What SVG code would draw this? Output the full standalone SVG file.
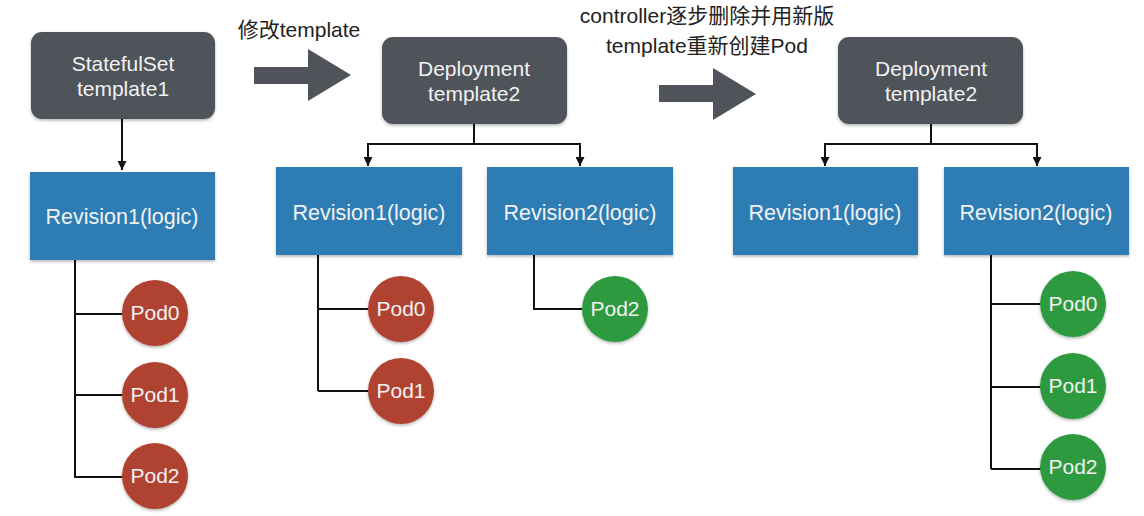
<svg xmlns="http://www.w3.org/2000/svg" width="1144" height="516" viewBox="0 0 1144 516">
<style>
.ctl{fill:#50535a}
.rev{fill:#2f7bb4}
.red{fill:#b04232}
.green{fill:#2e9a40}
.t{font-family:"Liberation Sans","Noto Sans CJK SC",sans-serif;fill:#f2f2f2;text-anchor:middle;font-size:21px}
.rt{font-size:21.5px}
.lbl{font-family:"Liberation Sans","Noto Sans CJK SC",sans-serif;fill:#222;text-anchor:middle;font-size:21px}
.ln{stroke:#111;stroke-width:2;fill:none}
.big{fill:#50535a}
</style>
<defs>
<marker id="ah" viewBox="0 0 10 10" refX="10" refY="5" markerWidth="9" markerHeight="9" markerUnits="userSpaceOnUse" orient="auto">
<path d="M0,0 L10,5 L0,10 Z" fill="#111"/>
</marker>
<filter id="sh" x="-10%" y="-10%" width="120%" height="130%">
<feDropShadow dx="0" dy="1.5" stdDeviation="1.5" flood-color="#000" flood-opacity="0.3"/>
</filter>
</defs>

<g id="labels">
<text class="lbl" x="299" y="37">修改template</text>
<text class="lbl" x="707" y="23">controller逐步删除并用新版</text>
<text class="lbl" x="707" y="53">template重新创建Pod</text>
</g>

<g id="bigarrows">
<path class="big" d="M254,67 L308,67 L308,49 L351,75 L308,101 L308,84 L254,84 Z"/>
<path class="big" d="M659,85 L713,85 L713,68 L756,94 L713,120 L713,102 L659,102 Z"/>
</g>

<g id="connectors">
<path class="ln" d="M122,119 V170" marker-end="url(#ah)"/>
<path class="ln" d="M75,260 V478 M75,314 H122 M75,395 H122 M75,477 H122"/>
<path class="ln" d="M474,124 V144 M368,144 H580"/>
<path class="ln" d="M368,143 V166" marker-end="url(#ah)"/>
<path class="ln" d="M580,143 V166" marker-end="url(#ah)"/>
<path class="ln" d="M318,255 V391 M318,309 H368 M318,391 H368"/>
<path class="ln" d="M534,255 V309 H582"/>
<path class="ln" d="M931,124 V144 M825,144 H1037"/>
<path class="ln" d="M825,143 V166" marker-end="url(#ah)"/>
<path class="ln" d="M1037,143 V166" marker-end="url(#ah)"/>
<path class="ln" d="M991,255 V469 M991,304 H1041 M991,387 H1041 M991,469 H1041"/>
</g>

<g id="statefulset">
<rect class="ctl" x="31" y="32" width="184" height="87" rx="11" filter="url(#sh)"/>
<text class="t" x="123" y="71">StatefulSet</text>
<text class="t" x="123" y="96">template1</text>
</g>
<g id="p1rev1">
<rect class="rev" x="30" y="172" width="185" height="88" filter="url(#sh)"/>
<text class="t rt" x="122" y="224">Revision1(logic)</text>
</g>
<g id="p1pod0"><circle class="red" cx="155" cy="313" r="33" filter="url(#sh)"/><text class="t" x="155" y="320">Pod0</text></g>
<g id="p1pod1"><circle class="red" cx="155" cy="395" r="33" filter="url(#sh)"/><text class="t" x="155" y="402">Pod1</text></g>
<g id="p1pod2"><circle class="red" cx="155" cy="476" r="33" filter="url(#sh)"/><text class="t" x="155" y="483">Pod2</text></g>

<g id="deploy1">
<rect class="ctl" x="382" y="37" width="185" height="87" rx="11" filter="url(#sh)"/>
<text class="t" x="474" y="76">Deployment</text>
<text class="t" x="474" y="101">template2</text>
</g>
<g id="p2rev1">
<rect class="rev" x="276" y="167" width="186" height="88" filter="url(#sh)"/>
<text class="t rt" x="369" y="220">Revision1(logic)</text>
</g>
<g id="p2rev2">
<rect class="rev" x="487" y="167" width="186" height="88" filter="url(#sh)"/>
<text class="t rt" x="580" y="220">Revision2(logic)</text>
</g>
<g id="p2pod0"><circle class="red" cx="401" cy="309" r="33" filter="url(#sh)"/><text class="t" x="401" y="316">Pod0</text></g>
<g id="p2pod1"><circle class="red" cx="401" cy="391" r="33" filter="url(#sh)"/><text class="t" x="401" y="398">Pod1</text></g>
<g id="p2pod2"><circle class="green" cx="615" cy="309" r="33" filter="url(#sh)"/><text class="t" x="615" y="316">Pod2</text></g>

<g id="deploy2">
<rect class="ctl" x="838" y="37" width="185" height="87" rx="11" filter="url(#sh)"/>
<text class="t" x="931" y="76">Deployment</text>
<text class="t" x="931" y="101">template2</text>
</g>
<g id="p3rev1">
<rect class="rev" x="733" y="167" width="185" height="88" filter="url(#sh)"/>
<text class="t rt" x="825" y="220">Revision1(logic)</text>
</g>
<g id="p3rev2">
<rect class="rev" x="944" y="167" width="185" height="88" filter="url(#sh)"/>
<text class="t rt" x="1036" y="220">Revision2(logic)</text>
</g>
<g id="p3pod0"><circle class="green" cx="1073" cy="304" r="33" filter="url(#sh)"/><text class="t" x="1073" y="311">Pod0</text></g>
<g id="p3pod1"><circle class="green" cx="1073" cy="386" r="33" filter="url(#sh)"/><text class="t" x="1073" y="393">Pod1</text></g>
<g id="p3pod2"><circle class="green" cx="1073" cy="467" r="33" filter="url(#sh)"/><text class="t" x="1073" y="474">Pod2</text></g>
</svg>
